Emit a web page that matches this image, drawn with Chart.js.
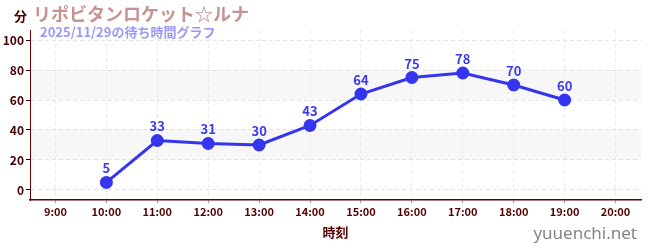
<!DOCTYPE html>
<html>
<head>
<meta charset="utf-8">
<script src="https://cdn.jsdelivr.net/npm/chart.js@4"></script>
<style>
  html, body { margin: 0; padding: 0; background: #fff; }
  #wrap { width: 650px; height: 250px; position: relative; }
</style>
</head>
<body>
<div id="wrap"><canvas id="waitChart"></canvas></div>
<script>
const hours = ['9:00', '10:00', '11:00', '12:00', '13:00', '14:00', '15:00', '16:00', '17:00', '18:00', '19:00', '20:00'];
const waitMinutes = [null, 5, 33, 31, 30, 43, 64, 75, 78, 70, 60, null];
const yTicks = [0, 10, 20, 30, 40, 50, 60, 70, 80, 90, 100];
const bands = [[20, 40], [60, 80]];

const titleText = 'リポビタンロケット☆ルナ';
const subTitleText = '2025/11/29の待ち時間グラフ';
const jpFont = '"Noto Sans CJK JP", "Noto Sans", sans-serif';

const decor = {
  id: 'decor',
  beforeDraw(chart) {
    const { ctx, chartArea, scales } = chart;
    ctx.save();
    ctx.fillStyle = '#f7f7f7';
    bands.forEach(([lo, hi]) => {
      const y1 = scales.y.getPixelForValue(hi);
      const y2 = scales.y.getPixelForValue(lo);
      ctx.fillRect(chartArea.left, y1, chartArea.right - chartArea.left, y2 - y1);
    });
    ctx.restore();
  },
  afterDatasetsDraw(chart) {
    const { ctx } = chart;
    const meta = chart.getDatasetMeta(0);
    ctx.save();
    ctx.font = 'bold 13px ' + jpFont;
    ctx.fillStyle = '#3a3af0';
    ctx.textAlign = 'center';
    ctx.textBaseline = 'alphabetic';
    meta.data.forEach((pt, i) => {
      const v = waitMinutes[i];
      if (v === null) return;
      ctx.fillText(String(v), pt.x, pt.y - 9);
    });
    ctx.restore();
  },
  afterDraw(chart) {
    const { ctx, chartArea } = chart;
    ctx.save();
    ctx.textBaseline = 'middle';

    ctx.font = 'bold 13px ' + jpFont;
    ctx.fillStyle = '#400';
    ctx.textAlign = 'left';
    ctx.fillText('分', 14, 16);

    ctx.font = 'bold 18px ' + jpFont;
    ctx.fillStyle = '#c69494';
    ctx.fillText(titleText, 33, 14);

    ctx.font = 'bold 13px ' + jpFont;
    ctx.fillStyle = '#9a9af6';
    ctx.fillText(subTitleText, 40, 32);

    ctx.font = 'bold 13px ' + jpFont;
    ctx.fillStyle = '#500';
    ctx.textAlign = 'center';
    ctx.fillText('時刻', (chartArea.left + chartArea.right) / 2, 232);

    ctx.font = '17px "Noto Sans", sans-serif';
    ctx.fillStyle = '#858585';
    ctx.textAlign = 'right';
    ctx.fillText('yuuenchi.net', 637, 234);
    ctx.restore();
  }
};

new Chart(document.getElementById('waitChart'), {
  type: 'line',
  data: {
    labels: hours,
    datasets: [{
      data: waitMinutes,
      borderColor: '#3535f0',
      backgroundColor: '#3535f0',
      borderWidth: 3,
      pointRadius: 5,
      pointHoverRadius: 5,
      tension: 0,
      spanGaps: false
    }]
  },
  options: {
    responsive: true,
    maintainAspectRatio: false,
    animation: false,
    layout: { padding: { top: 30, right: 9, bottom: 0, left: 0 } },
    plugins: {
      legend: { display: false },
      tooltip: { enabled: false }
    },
    scales: {
      x: {
        type: 'category',
        offset: true,
        afterFit: s => { s.height = 50; },
        grid: {
          offset: false,
          color: '#ebebeb',
          tickColor: '#999',
          tickLength: 3,
          drawOnChartArea: true
        },
        border: { color: '#600', width: 1.5, dash: [4, 3] },
        ticks: {
          color: '#500',
          padding: 2,
          maxRotation: 0,
          autoSkip: false,
          font: { family: jpFont, size: 11, weight: 'bold' }
        }
      },
      y: {
        min: -6.7,
        max: 106.7,
        afterFit: s => { s.width = 30; },
        afterBuildTicks: s => { s.ticks = yTicks.map(v => ({ value: v })); },
        grid: {
          color: c => (c.tick && c.tick.value % 20 === 0) ? '#e3e3e3' : 'rgba(0,0,0,0)',
          tickColor: c => (c.tick && c.tick.value % 20 === 0) ? '#200' : '#e22',
          tickLength: 4
        },
        border: { color: '#600', width: 1, dash: [4, 3] },
        ticks: {
          color: '#400',
          padding: 2,
          callback: v => (v % 20 === 0 ? String(v) : ''),
          font: { family: jpFont, size: 12, weight: 'bold' }
        }
      }
    }
  },
  plugins: [decor]
});
</script>
</body>
</html>
